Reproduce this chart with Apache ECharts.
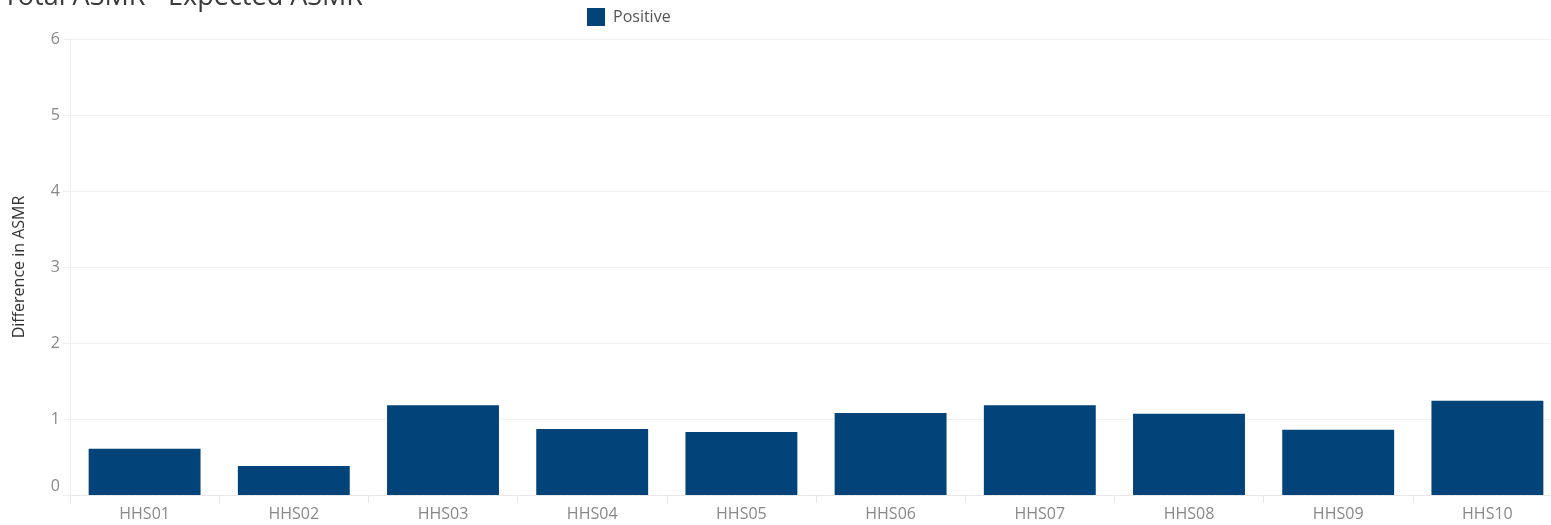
<!DOCTYPE html>
<html>
<head>
<meta charset="utf-8">
<script src="https://cdn.jsdelivr.net/npm/echarts@6/dist/echarts.min.js"></script>
<style>
html,body{margin:0;padding:0;background:#fff;}
#main{width:1551px;height:525px;}
</style>
</head>
<body>
<div id="main"></div>
<script>
const categories = ['HHS01','HHS02','HHS03','HHS04','HHS05','HHS06','HHS07','HHS08','HHS09','HHS10'];
const positiveValues = [0.61, 0.38, 1.18, 0.87, 0.83, 1.08, 1.18, 1.07, 0.86, 1.24];
const yTicks = [0, 1, 2, 3, 4, 5, 6];
const seriesName = 'Positive';
const titleText = 'Total ASMR - Expected ASMR';
const yAxisName = 'Difference in ASMR';

const chart = echarts.init(document.getElementById('main'), null, {renderer: 'canvas'});
const font = 'Open Sans';
chart.setOption({
  animation: false,
  backgroundColor: '#ffffff',
  title: {
    text: titleText,
    left: 3,
    top: -16,
    padding: 0,
    textStyle: {fontFamily: font, fontSize: 27, fontWeight: 'normal', color: '#3a3a3a'}
  },
  legend: {
    data: [seriesName],
    left: 587,
    top: 8,
    padding: 0,
    icon: 'rect',
    itemWidth: 18,
    itemHeight: 18,
    textStyle: {fontFamily: font, fontSize: 16, color: '#555555', padding: [0,0,0,3]}
  },
  grid: {left: 70, top: 39, width: 1492, bottom: 30, containLabel: false, outerBoundsMode: 'none'},
  xAxis: {
    type: 'category',
    data: categories,
    axisLine: {show: true, lineStyle: {color: '#e6e6e6', type: 'dashed'}},
    axisTick: {show: true, alignWithLabel: false, length: 8, lineStyle: {color: '#e6e6e6'}},
    axisLabel: {fontFamily: font, fontSize: 16, color: '#888888', margin: 11},
    splitLine: {show: false}
  },
  yAxis: {
    type: 'value',
    min: yTicks[0],
    max: yTicks[yTicks.length - 1],
    interval: 1,
    name: yAxisName,
    nameLocation: 'middle',
    nameGap: 43,
    nameTextStyle: {fontFamily: font, fontSize: 16, color: '#333333'},
    axisLine: {show: true, lineStyle: {color: '#eeeeee'}},
    axisTick: {show: true, length: 7, lineStyle: {color: '#eeeeee'}},
    axisLabel: {
      fontFamily: font, fontSize: 16, color: '#888888', margin: 10,
      formatter: function (v) { return v === 0 ? '{z|0}' : String(v); },
      rich: {z: {fontFamily: font, fontSize: 16, color: '#888888', padding: [0, 0, 18, 0]}}
    },
    splitLine: {show: true, lineStyle: {color: '#f0f0f0'}}
  },
  series: [{
    name: seriesName,
    type: 'bar',
    data: positiveValues,
    barCategoryGap: '25%',
    itemStyle: {color: '#02437a'}
  }]
});
</script>
</body>
</html>
